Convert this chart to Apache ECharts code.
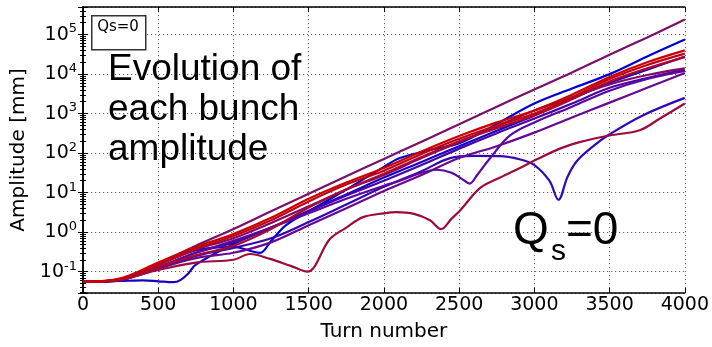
<!DOCTYPE html>
<html><head><meta charset="utf-8">
<script src="https://cdn.jsdelivr.net/npm/echarts@6/dist/echarts.min.js"></script>
<style>html,body{margin:0;padding:0;background:#fff}#c{width:712px;height:347px}</style>
</head><body><div id="c"></div>
<script>
// ---- data (turn number, amplitude in mm) ----
const turnsGrid = [0,250,500,750,1000,1250,1500,1750,2000,2250,2500,2750,3000,3250,3500,3750,4000];

const blueTopTurns = [0,250,500,750,1000,1176,1250,1350,1508,1750,2000,2106,2306,2505,2750,3000,3250,3500,3750,4000];
const blueTopAmp   = [0.055,0.065,0.15,0.35,0.42,0.3,0.6,1.5,3.5,12,45,75,120,180,550,1.8e3,4.3e3,1e4,2.8e4,7.5e4];

const blueDipTurns = [0,250,400,500,600,650,700,750,1000,1250,1500,1750,2000,2250,2500,2750,3000,3250,3500,3750,4000];
const blueDipAmp   = [0.055,0.058,0.06,0.057,0.054,0.062,0.09,0.15,0.5,1.3,3.5,9,24,60,150,370,900,2.4e3,6e3,1.3e4,2.8e4];

const humpTurns = [0,250,500,750,1000,1250,1500,1750,2000,2250,2440,2600,2771,2900,3000,3100,3160,3220,3283,3400,3500,3720,4000];
const humpAmp   = [0.055,0.062,0.12,0.25,0.4,0.7,1.8,5,14,35,75,85,84,70,50,20,6.6,25,63,160,300,900,2.5e3];

const purpleBAmp = [0.055,0.063,0.13,0.3,0.55,1.3,3.3,8.5,20,50,130,320,750,1.8e3,4.5e3,8e3,1.3e4];

const purpleVTurns = [0,250,500,750,1000,1250,1500,1750,2000,2106,2250,2350,2450,2520,2570,2620,2700,2838,3000,3250,3500,3750,4000];
const purpleVAmp   = [0.055,0.063,0.13,0.3,0.6,1.3,3,7,15,20,32,38,32,22,17,28,70,280,600,1.5e3,3.8e3,7.5e3,1.2e4];

const purpleAAmp = [0.055,0.062,0.12,0.22,0.3,0.55,1.5,4,11,28,75,150,330,800,1.9e3,4.5e3,1.07e4];
const topAmp     = [0.055,0.06,0.16,0.45,1.2,3.4,9.4,26,71,195,540,1.5e3,4.1e3,1.1e4,3.1e4,8.5e4,2.4e5];
const purpleCAmp = [0.055,0.065,0.15,0.36,0.7,1.7,4.5,12,28,75,190,480,1.2e3,2.6e3,5.5e3,9.5e3,1.4e4];

const redDipTurns = [0,250,500,750,1000,1110,1243,1380,1490,1641,1750,1861,2000,2086,2200,2306,2380,2450,2505,2638,2750,2904,3000,3170,3300,3500,3700,3834,4000];
const redDipAmp   = [0.055,0.064,0.11,0.17,0.2,0.28,0.21,0.14,0.1,0.67,1.3,2.4,3,3.2,2.9,2,1.2,2.2,3.5,13,22,42,65,130,190,280,380,750,1.8e3];

const red3Amp = [0.055,0.064,0.13,0.26,0.45,1.2,4.2,12,30,80,200,430,900,2.3e3,6.5e3,1.4e4,2.7e4];
const red2Amp = [0.055,0.066,0.15,0.38,0.8,2,6,16,36,95,230,500,1e3,2.6e3,7.5e3,1.7e4,3.3e4];
const red1Amp = [0.055,0.068,0.17,0.42,0.9,2.3,7,18,42,110,270,600,1.2e3,3e3,8.5e3,2e4,4e4];

const xTickValues = [0,500,1000,1500,2000,2500,3000,3500,4000];
const yDecades = [-1,0,1,2,3,4,5];

// ---- build ----
function zip(ts, as){ return ts.map((t,i)=>[t, as[i]]); }
const lines = [
  {turns: blueTopTurns, amp: blueTopAmp, color:'#0000d0'},
  {turns: blueDipTurns, amp: blueDipAmp, color:'#1800c4'},
  {turns: humpTurns, amp: humpAmp, color:'#3408b0'},
  {turns: turnsGrid, amp: purpleBAmp, color:'#4806a6'},
  {turns: purpleVTurns, amp: purpleVAmp, color:'#5a08a0'},
  {turns: turnsGrid, amp: purpleAAmp, color:'#6a0890'},
  {turns: turnsGrid, amp: topAmp, color:'#78106c'},
  {turns: turnsGrid, amp: purpleCAmp, color:'#820868'},
  {turns: redDipTurns, amp: redDipAmp, color:'#9c0c40'},
  {turns: turnsGrid, amp: red3Amp, color:'#aa0a30'},
  {turns: turnsGrid, amp: red2Amp, color:'#bc0618'},
  {turns: turnsGrid, amp: red1Amp, color:'#cc0000'}
];

const FONT = 'DejaVu Sans';
const YMIN = 0.0288, YMAX = 5.0e5;

function supLabel(v){
  const e = Math.log10(v);
  const r = Math.round(e);
  if (Math.abs(e - r) > 1e-6 || yDecades.indexOf(r) < 0) return '';
  return '{b|10}{s|' + r + '}';
}

const option = {
  animation: false,
  backgroundColor: '#fff',
  grid: {left: 83, right: 27, top: 7, bottom: 50},
  xAxis: [{
    type: 'value', min: 0, max: 4000, interval: 500,
    name: 'Turn number', nameLocation: 'middle', nameGap: 29,
    nameTextStyle: {fontFamily: FONT, fontSize: 20, color: '#000'},
    axisLine: {show: true, lineStyle: {color: '#000', width: 1.5}},
    axisTick: {show: true, inside: true, length: 5, lineStyle: {color: '#000'}},
    axisLabel: {fontFamily: FONT, fontSize: 19, color: '#000', margin: 3,
      formatter: v => xTickValues.indexOf(v) >= 0 ? String(v) : ''},
    splitLine: {show: true, lineStyle: {color: '#666', type: [1.2, 2.8], width: 1}}
  }, {
    type: 'value', position: 'top', min: 0, max: 4000, interval: 500,
    axisLine: {show: true, lineStyle: {color: '#000', width: 1.5}},
    axisTick: {show: true, inside: true, length: 5, lineStyle: {color: '#000'}},
    axisLabel: {show: false}, splitLine: {show: false}
  }],
  yAxis: [{
    type: 'log', logBase: 10, min: YMIN, max: YMAX,
    name: 'Amplitude [mm]', nameLocation: 'middle', nameGap: 50,
    nameTextStyle: {fontFamily: FONT, fontSize: 20, color: '#000'},
    axisLine: {show: true, lineStyle: {color: '#000', width: 1.5}},
    axisTick: {show: true, inside: true, length: 5, lineStyle: {color: '#000'}},
    minorTick: {show: true, splitNumber: 9, length: 3, lineStyle: {color: '#000'}},
    axisLabel: {fontFamily: FONT, color: '#000', margin: 6, formatter: supLabel,
      rich: {
        b: {fontFamily: FONT, fontSize: 19, color: '#000', lineHeight: 24},
        s: {fontFamily: FONT, fontSize: 13, color: '#000', lineHeight: 12, verticalAlign: 'top'}
      }},
    splitLine: {show: true, lineStyle: {color: '#666', type: [1.2, 2.8], width: 1}}
  }, {
    type: 'log', logBase: 10, min: YMIN, max: YMAX, position: 'right',
    axisLine: {show: true, lineStyle: {color: '#000', width: 1.5}},
    axisTick: {show: true, inside: true, length: 5, lineStyle: {color: '#000'}},
    minorTick: {show: true, splitNumber: 9, length: 3, lineStyle: {color: '#000'}},
    axisLabel: {show: false}, splitLine: {show: false}
  }],
  series: lines.map(l => ({
    type: 'line', data: zip(l.turns, l.amp), showSymbol: false, symbol: 'none',
    smooth: 0.35, lineStyle: {color: l.color, width: 2.2}, silent: true, clip: true
  })),
  graphic: [
    {type: 'rect', left: 91, top: 15, shape: {width: 54, height: 34},
      style: {fill: '#fff', stroke: '#333', lineWidth: 1.5}, z: 100},
    {type: 'text', x: 118, y: 27, z: 101,
      style: {text: 'Qs=0', font: '15px "DejaVu Sans"', fill: '#000', align: 'center', verticalAlign: 'middle'}},
    {type: 'text', x: 108, y: 70, z: 101,
      style: {text: 'Evolution of', font: '37px "Liberation Sans"', fill: '#000', align: 'left', verticalAlign: 'middle'}},
    {type: 'text', x: 108, y: 110, z: 101,
      style: {text: 'each bunch', font: '37px "Liberation Sans"', fill: '#000', align: 'left', verticalAlign: 'middle'}},
    {type: 'text', x: 108, y: 150, z: 101,
      style: {text: 'amplitude', font: '37px "Liberation Sans"', fill: '#000', align: 'left', verticalAlign: 'middle'}},
    {type: 'text', x: 513, y: 231, z: 101,
      style: {text: 'Q', font: '46px "Liberation Sans"', fill: '#000', align: 'left', verticalAlign: 'middle'}},
    {type: 'text', x: 551, y: 252, z: 101,
      style: {text: 's', font: '30px "Liberation Sans"', fill: '#000', align: 'left', verticalAlign: 'middle'}},
    {type: 'text', x: 566, y: 231, z: 101,
      style: {text: '=0', font: '46px "Liberation Sans"', fill: '#000', align: 'left', verticalAlign: 'middle'}}
  ]
};
const chart = echarts.init(document.getElementById('c'), null, {renderer: 'canvas'});
chart.setOption(option);
</script></body></html>
